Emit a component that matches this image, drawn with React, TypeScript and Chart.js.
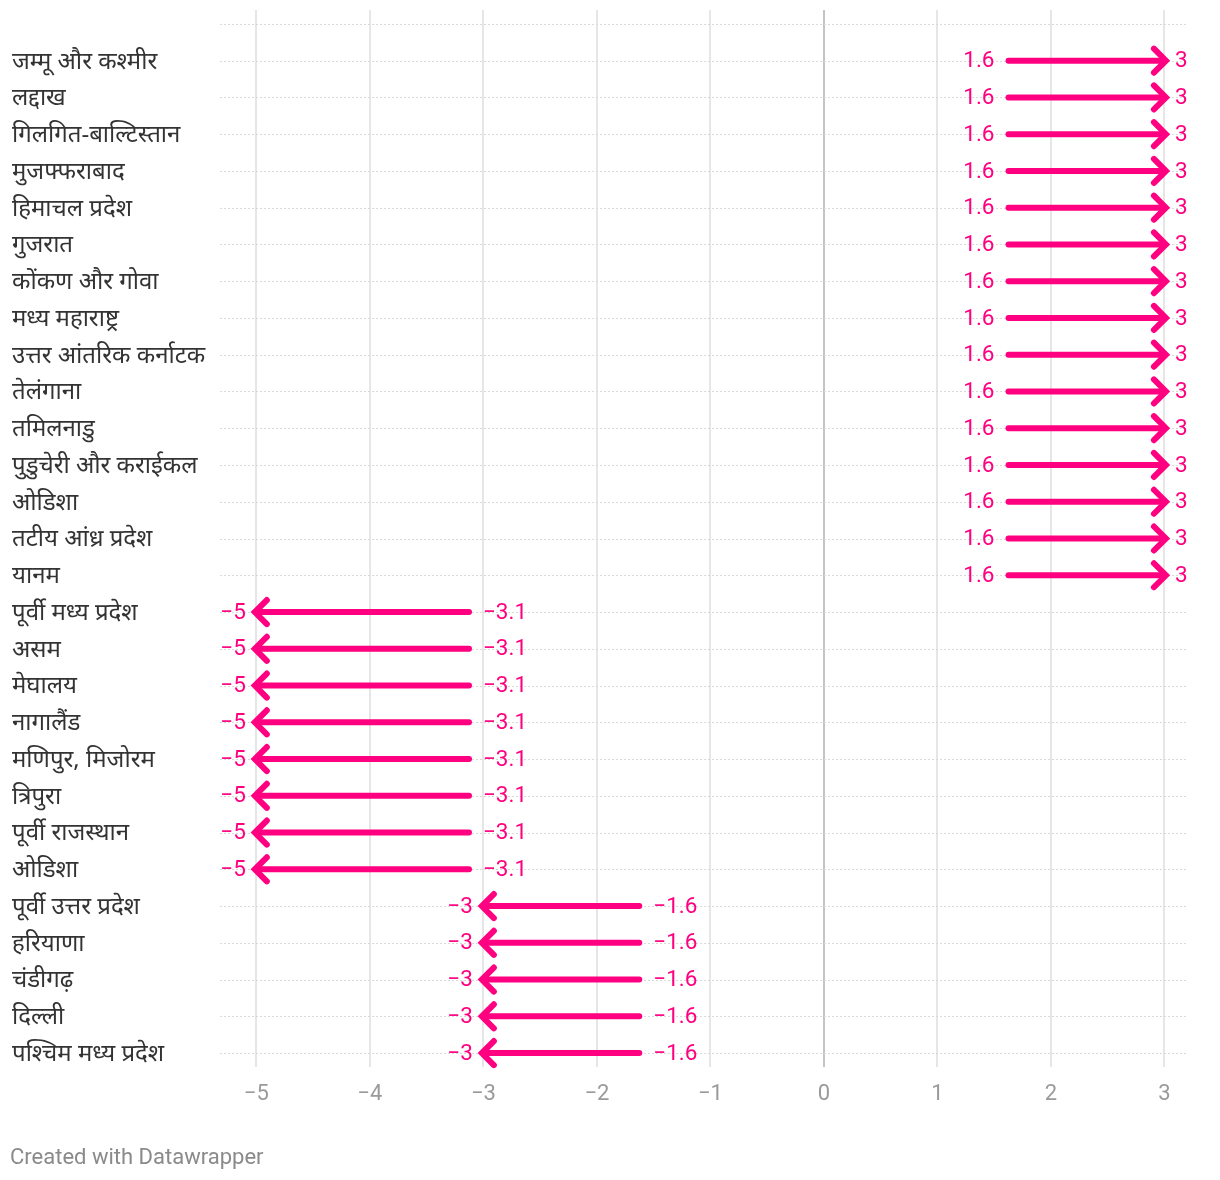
import React, { useEffect, useRef } from "react";
import { Chart, registerables } from "chart.js";

Chart.register(...registerables);

const categories = [
  "जम्मू और कश्मीर",
  "लद्दाख",
  "गिलगित-बाल्टिस्तान",
  "मुजफ्फराबाद",
  "हिमाचल प्रदेश",
  "गुजरात",
  "कोंकण और गोवा",
  "मध्य महाराष्ट्र",
  "उत्तर आंतरिक कर्नाटक",
  "तेलंगाना",
  "तमिलनाडु",
  "पुडुचेरी और कराईकल",
  "ओडिशा",
  "तटीय आंध्र प्रदेश",
  "यानम",
  "पूर्वी मध्य प्रदेश",
  "असम",
  "मेघालय",
  "नागालैंड",
  "मणिपुर, मिजोरम",
  "त्रिपुरा",
  "पूर्वी राजस्थान",
  "ओडिशा",
  "पूर्वी उत्तर प्रदेश",
  "हरियाणा",
  "चंडीगढ़",
  "दिल्ली",
  "पश्चिम मध्य प्रदेश",
];

const startValues = [
  1.6, 1.6, 1.6, 1.6, 1.6, 1.6, 1.6, 1.6, 1.6, 1.6, 1.6, 1.6, 1.6, 1.6, 1.6,
  -3.1, -3.1, -3.1, -3.1, -3.1, -3.1, -3.1, -3.1,
  -1.6, -1.6, -1.6, -1.6, -1.6,
];

const endValues = [
  3, 3, 3, 3, 3, 3, 3, 3, 3, 3, 3, 3, 3, 3, 3,
  -5, -5, -5, -5, -5, -5, -5, -5,
  -3, -3, -3, -3, -3,
];

const xTicks = [-5, -4, -3, -2, -1, 0, 1, 2, 3];

const PINK = "#ff0080";
const VALUE_FONT = "22.5px Roboto, 'Noto Sans', sans-serif";
const TICK_FONT = "22px Roboto, 'Noto Sans', sans-serif";
const LABEL_FONT = "24px 'Noto Sans', 'Noto Sans Devanagari', Roboto, sans-serif";

const fmt = (v: number) => (v < 0 ? "\u2212" + String(Math.abs(v)) : String(v));

const arrowPlugin = {
  id: "arrowPlugin",
  beforeDatasetsDraw(chart: any) {
    const { ctx, chartArea, scales } = chart;
    const y = scales.y;
    ctx.save();
    ctx.strokeStyle = "#d9d9d9";
    ctx.lineWidth = 1;
    ctx.setLineDash([2, 2]);
    for (let i = -1; i < categories.length; i++) {
      const py = Math.round(y.getPixelForValue(i)) + 0.5;
      ctx.beginPath();
      ctx.moveTo(chartArea.left, py);
      ctx.lineTo(chartArea.right, py);
      ctx.stroke();
    }
    ctx.restore();
  },
  afterDatasetsDraw(chart: any) {
    const { ctx, chartArea, scales } = chart;
    const startMeta = chart.getDatasetMeta(0);
    const endMeta = chart.getDatasetMeta(1);
    ctx.save();
    // category labels
    ctx.font = LABEL_FONT;
    ctx.fillStyle = "#333333";
    ctx.textAlign = "left";
    ctx.textBaseline = "middle";
    categories.forEach((c, i) => {
      ctx.fillText(c, 12, scales.y.getPixelForValue(i) + 1);
    });
    // arrows
    for (let i = 0; i < categories.length; i++) {
      const s = startMeta.data[i];
      const e = endMeta.data[i];
      const dir = e.x > s.x ? 1 : -1;
      const tipX = e.x + dir * 1.5;
      ctx.strokeStyle = PINK;
      ctx.lineWidth = 6;
      ctx.lineCap = "round";
      ctx.lineJoin = "miter";
      ctx.beginPath();
      ctx.moveTo(s.x + dir * 3, s.y);
      ctx.lineTo(tipX - dir * 3, e.y);
      ctx.stroke();
      ctx.lineCap = "round";
      ctx.beginPath();
      ctx.moveTo(tipX - dir * 12, e.y - 12);
      ctx.lineTo(tipX, e.y);
      ctx.lineTo(tipX - dir * 12, e.y + 12);
      ctx.stroke();
      ctx.font = VALUE_FONT;
      ctx.fillStyle = PINK;
      ctx.textBaseline = "middle";
      ctx.textAlign = dir > 0 ? "right" : "left";
      ctx.fillText(fmt(startValues[i]), s.x - dir * 11, s.y + 1);
      ctx.textAlign = dir > 0 ? "left" : "right";
      ctx.fillText(fmt(endValues[i]), tipX + dir * 9, e.y + 1);
    }
    // x tick labels
    ctx.font = TICK_FONT;
    ctx.fillStyle = "#9a9a9a";
    ctx.textAlign = "center";
    ctx.textBaseline = "middle";
    xTicks.forEach((t) => {
      ctx.fillText(fmt(t), scales.x.getPixelForValue(t), chartArea.bottom + 27);
    });
    ctx.restore();
  },
};

export default function App() {
  const canvasRef = useRef<HTMLCanvasElement | null>(null);

  useEffect(() => {
    if (!canvasRef.current) return;
    const chart = new Chart(canvasRef.current, {
      type: "scatter",
      data: {
        datasets: [
          {
            label: "start",
            data: startValues.map((v, i) => ({ x: v, y: i })),
            pointRadius: 0,
            showLine: false,
          },
          {
            label: "end",
            data: endValues.map((v, i) => ({ x: v, y: i })),
            pointRadius: 0,
            showLine: false,
          },
        ],
      },
      options: {
        animation: false,
        responsive: false,
        maintainAspectRatio: false,
        layout: { padding: { left: 220, right: 34, top: 10, bottom: 113 } },
        plugins: {
          legend: { display: false },
          tooltip: { enabled: false },
        },
        scales: {
          x: {
            type: "linear",
            min: -5.32,
            max: 3.19,
            afterBuildTicks: (axis: any) => {
              axis.ticks = xTicks.map((v) => ({ value: v }));
            },
            grid: {
              color: (c: any) => (c.tick && c.tick.value === 0 ? "#c4c4c4" : "#e6e6e6"),
              lineWidth: 2,
              drawTicks: false,
            },
            border: { display: false },
            ticks: { display: false },
          },
          y: {
            type: "linear",
            min: -1.38,
            max: 27.38,
            reverse: true,
            display: false,
          },
        },
      },
      plugins: [arrowPlugin],
    } as any);
    return () => chart.destroy();
  }, []);

  return (
    <div style={{ position: "absolute", left: 0, top: 0, width: 1220, height: 1180, background: "#fff" }}>
      <canvas ref={canvasRef} width={1220} height={1180} style={{ width: 1220, height: 1180, display: "block" }} />
      <div
        style={{
          position: "absolute",
          left: 10,
          top: 1143,
          fontFamily: "Roboto, sans-serif",
          fontSize: 22,
          color: "#8a8a8a",
          lineHeight: "28px",
        }}
      >
        Created with Datawrapper
      </div>
    </div>
  );
}
